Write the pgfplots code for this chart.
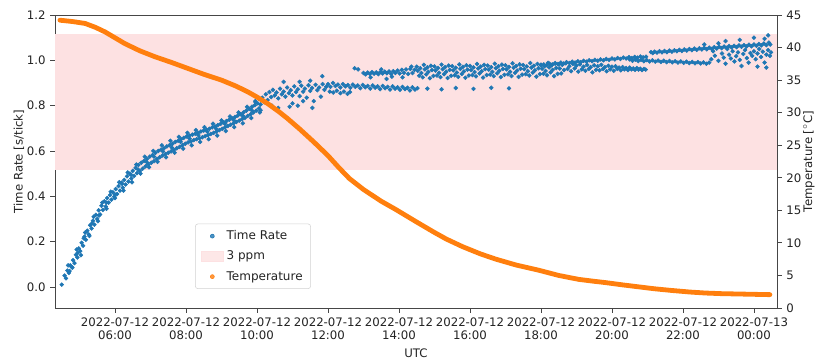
\documentclass[border=0pt]{standalone}
\usepackage{fontspec}
\setmainfont{DejaVu Sans}
\usepackage{pgfplots}
\pgfplotsset{compat=1.18}
\definecolor{c0}{HTML}{1F77B4}
\definecolor{c1}{HTML}{FF7F0E}
\definecolor{band}{RGB}{253,225,226}
\definecolor{spine}{RGB}{70,70,70}
\definecolor{txt}{RGB}{35,35,35}
\definecolor{legedge}{RGB}{210,210,210}
\begin{document}
\begin{tikzpicture}
\path[use as bounding box] (-41.25pt,-39pt) rectangle (571.5pt,231pt);
\pgfplotsset{
  every axis/.append style={
    scale only axis, width=541.5pt, height=219.75pt,
    at={(0,0)}, anchor=south west,
    xmin=4.31, xmax=24.65,
    axis line style={spine, line width=0.6pt},
    tick style={spine, line width=0.6pt},
    major tick length=3.5pt,
    tick align=outside,
    tick label style={font=\fontsize{8.8}{10.2}\selectfont, text=txt},
    label style={font=\fontsize{8.8}{10.2}\selectfont, text=txt},
    /pgf/number format/assume math mode=true,
  }
}
\begin{axis}[
  ymin=-0.093, ymax=1.2,
  xtick={6,8,10,12,14,16,18,20,22,24},
  xticklabels={2022-07-12\\06:00,2022-07-12\\08:00,2022-07-12\\10:00,2022-07-12\\12:00,2022-07-12\\14:00,2022-07-12\\16:00,2022-07-12\\18:00,2022-07-12\\20:00,2022-07-12\\22:00,2022-07-13\\00:00},
  xticklabel style={align=center},
  ytick={0,0.2,0.4,0.6,0.8,1.0,1.2},
  yticklabel style={/pgf/number format/.cd, fixed, fixed zerofill, precision=1},
  xtick pos=bottom, ytick pos=left,
  xlabel={UTC}, ylabel={Time Rate [s/tick]},
  ylabel style={at={(axis description cs:-0.05,0.5)}, anchor=center},
]
\addplot[fill=band, draw=none] coordinates {(4.31,0.515) (24.65,0.515) (24.65,1.115) (4.31,1.115)};
\addplot[only marks, mark=*, mark size=1.45pt, color=c0] coordinates {
(4.50,0.010) (4.58,0.050) (4.62,0.038) (4.66,0.072) (4.70,0.062) (4.74,0.095) (4.78,0.088) (4.82,0.118) (4.86,0.105) (4.90,0.142)
(4.94,0.130) (4.98,0.170) (5.02,0.158) (5.06,0.195) (5.10,0.182) (5.14,0.222) (5.18,0.208) (5.22,0.248) (5.26,0.232) (5.30,0.272)
(5.34,0.258) (5.38,0.292) (5.42,0.275) (5.46,0.318) (5.50,0.300) (5.54,0.338) (5.58,0.320) (5.62,0.358) (5.66,0.340) (5.70,0.378)
(5.74,0.355) (5.78,0.392) (5.82,0.372) (5.86,0.405) (5.90,0.385) (5.94,0.418) (5.98,0.398) (6.02,0.432) (6.06,0.410) (6.10,0.445)
(6.14,0.425) (6.18,0.460) (6.22,0.438) (6.26,0.472) (6.30,0.452) (6.34,0.488) (6.38,0.465) (6.42,0.500) (6.46,0.478) (6.50,0.512)
(6.54,0.490) (6.58,0.525) (6.62,0.502) (6.66,0.538) (6.70,0.512) (6.74,0.548) (6.78,0.522) (6.82,0.556) (6.86,0.532) (6.90,0.565)
(6.94,0.540) (6.98,0.575) (7.02,0.548) (7.06,0.582) (7.10,0.555) (7.14,0.592) (7.18,0.565) (7.22,0.600) (7.26,0.572) (7.30,0.606)
(7.34,0.580) (7.38,0.612) (7.42,0.586) (7.46,0.620) (7.50,0.592) (7.54,0.626) (7.58,0.598) (7.62,0.632) (7.66,0.605) (7.70,0.640)
(7.74,0.612) (7.78,0.645) (7.82,0.618) (7.86,0.652) (7.90,0.625) (7.94,0.658) (7.98,0.632) (8.02,0.664) (8.06,0.638) (8.10,0.668)
(8.14,0.642) (8.18,0.672) (8.22,0.648) (8.26,0.676) (8.30,0.652) (8.34,0.680) (8.38,0.656) (8.42,0.686) (8.46,0.660) (8.50,0.690)
(8.54,0.665) (8.58,0.694) (8.62,0.670) (8.66,0.698) (8.70,0.675) (8.74,0.704) (8.78,0.680) (8.82,0.708) (8.86,0.686) (8.90,0.714)
(8.94,0.692) (8.98,0.720) (9.02,0.698) (9.06,0.726) (9.10,0.704) (9.14,0.732) (9.18,0.710) (9.22,0.738) (9.26,0.716) (9.30,0.744)
(9.34,0.722) (9.38,0.750) (9.42,0.728) (9.46,0.756) (9.50,0.734) (9.54,0.762) (9.58,0.740) (9.62,0.770) (9.66,0.746) (9.70,0.778)
(9.74,0.755) (9.78,0.786) (9.82,0.762) (9.86,0.795) (9.90,0.770) (9.94,0.802) (9.98,0.778) (10.02,0.810) (10.06,0.788) (10.10,0.805)
(4.72,0.070) (4.95,0.150) (5.12,0.215) (5.35,0.280) (5.55,0.315) (5.76,0.372) (6.00,0.408) (6.20,0.455) (6.45,0.495) (6.65,0.518)
(6.90,0.550) (7.10,0.575) (7.35,0.598) (7.60,0.615) (7.85,0.640) (8.10,0.655) (8.35,0.670) (8.60,0.685) (8.85,0.698) (9.10,0.720)
(9.35,0.735) (9.60,0.755) (9.85,0.780) (10.05,0.830) (9.95,0.820) (10.10,0.780)
(4.68,0.095) (4.80,0.085) (4.92,0.165) (5.04,0.140) (5.16,0.240) (5.28,0.225) (5.40,0.310) (5.52,0.290) (5.64,0.372) (5.76,0.345)
(5.88,0.420) (6.00,0.392) (6.12,0.462) (6.24,0.425) (6.36,0.505) (6.48,0.462) (6.60,0.540) (6.72,0.500) (6.84,0.575) (6.96,0.528)
(7.08,0.600) (7.20,0.552) (7.32,0.625) (7.44,0.572) (7.56,0.645) (7.68,0.592) (7.80,0.662) (7.92,0.610) (8.04,0.680) (8.16,0.625)
(8.28,0.692) (8.40,0.640) (8.52,0.705) (8.64,0.652) (8.76,0.720) (8.88,0.668) (9.00,0.735) (9.12,0.688) (9.24,0.752) (9.36,0.705)
(9.48,0.770) (9.60,0.722) (9.72,0.795) (9.84,0.745) (9.96,0.815) (10.08,0.770)
(10.15,0.835) (10.20,0.815) (10.25,0.850) (10.30,0.825) (10.35,0.860) (10.40,0.838) (10.45,0.870) (10.50,0.845) (10.55,0.858) (10.60,0.832)
(10.65,0.875) (10.70,0.850) (10.75,0.862) (10.80,0.840) (10.85,0.880) (10.90,0.855) (10.95,0.868) (11.00,0.845) (11.05,0.885) (11.10,0.860)
(11.15,0.872) (11.20,0.842) (11.25,0.888) (11.30,0.862) (11.35,0.875) (11.40,0.835) (11.45,0.890) (11.50,0.865) (11.55,0.878) (11.60,0.820)
(11.65,0.892) (11.70,0.868) (11.75,0.880) (11.80,0.840) (11.85,0.895) (11.90,0.870) (11.95,0.883)
(10.42,0.800) (10.75,0.905) (11.00,0.810) (11.30,0.820) (11.50,0.910) (10.60,0.790) (11.15,0.800) (10.92,0.795) (11.56,0.790) (11.84,0.930) (11.20,0.905)
(12.00,0.895) (12.07,0.883) (12.14,0.900) (12.21,0.887) (12.28,0.893) (12.35,0.880) (12.42,0.895) (12.49,0.885) (12.56,0.891) (12.63,0.879)
(12.70,0.893) (12.77,0.883) (12.84,0.889) (12.91,0.877) (12.98,0.891) (13.05,0.881) (13.12,0.887) (13.19,0.875) (13.26,0.889) (13.33,0.879)
(13.40,0.885) (13.47,0.873) (13.54,0.887) (13.61,0.877) (13.68,0.883) (13.75,0.871) (13.82,0.885) (13.89,0.875) (13.96,0.881) (14.03,0.870)
(14.10,0.883) (14.17,0.873) (14.24,0.879) (14.31,0.867) (14.38,0.881) (14.45,0.871) (14.52,0.877)
(12.05,0.862) (12.15,0.858) (12.25,0.866) (12.35,0.855) (12.45,0.862) (12.55,0.852) (12.62,0.860)
(14.80,0.875) (15.20,0.872) (15.60,0.878) (16.10,0.874) (16.60,0.879) (17.10,0.876)
(12.75,0.965) (12.85,0.960)
(13.00,0.944) (13.06,0.938) (13.12,0.946) (13.18,0.940) (13.24,0.948) (13.30,0.941) (13.36,0.947) (13.42,0.939) (13.48,0.949) (13.54,0.942)
(13.60,0.950) (13.66,0.943) (13.72,0.951) (13.78,0.940) (13.84,0.952) (13.90,0.944) (13.96,0.955) (14.02,0.942) (14.08,0.958) (14.14,0.945)
(14.20,0.960) (14.26,0.940) (14.32,0.962) (14.38,0.944) (14.44,0.958)
(13.2,0.925) (13.5,0.960) (13.8,0.928) (14.1,0.925) (14.35,0.972) (13.65,0.918)
(14.50,0.972) (14.53,0.954) (14.57,0.932) (14.60,0.965) (14.63,0.944) (14.67,0.925) (14.70,0.980) (14.73,0.960) (14.77,0.938)
(14.80,0.969) (14.83,0.949) (14.87,0.921) (14.90,0.976) (14.93,0.957) (14.97,0.931) (15.00,0.973) (15.03,0.955) (15.07,0.933)
(15.10,0.966) (15.13,0.945) (15.17,0.926) (15.20,0.981) (15.23,0.961) (15.27,0.939) (15.30,0.970) (15.33,0.950) (15.37,0.922)
(15.40,0.977) (15.43,0.958) (15.47,0.932) (15.50,0.974) (15.53,0.956) (15.57,0.934) (15.60,0.967) (15.63,0.946) (15.67,0.927)
(15.70,0.982) (15.73,0.962) (15.77,0.940) (15.80,0.971) (15.83,0.951) (15.87,0.923) (15.90,0.978) (15.93,0.959) (15.97,0.933)
(16.00,0.975) (16.03,0.957) (16.07,0.935) (16.10,0.969) (16.13,0.948) (16.17,0.929) (16.20,0.984) (16.23,0.964) (16.27,0.942)
(16.30,0.972) (16.33,0.952) (16.37,0.924) (16.40,0.980) (16.43,0.961) (16.47,0.935) (16.50,0.977) (16.53,0.959) (16.57,0.937)
(16.60,0.970) (16.63,0.949) (16.67,0.930) (16.70,0.985) (16.73,0.965) (16.77,0.943) (16.80,0.974) (16.83,0.954) (16.87,0.926)
(16.90,0.981) (16.93,0.962) (16.97,0.936) (17.00,0.978) (17.03,0.960) (17.07,0.938) (17.10,0.971) (17.13,0.950) (17.17,0.931)
(17.20,0.987) (17.23,0.967) (17.27,0.945) (17.30,0.975) (17.33,0.955) (17.37,0.927) (17.40,0.982) (17.43,0.963) (17.47,0.937)
(17.50,0.979) (17.53,0.961) (17.57,0.939) (17.60,0.973) (17.63,0.952) (17.67,0.933) (17.70,0.988) (17.73,0.968) (17.77,0.946)
(17.80,0.976) (17.83,0.956) (17.87,0.928) (17.90,0.984) (17.93,0.965) (17.97,0.939) (18.00,0.981) (18.03,0.963) (18.07,0.941)
(18.10,0.974) (18.13,0.953) (18.17,0.934) (18.20,0.989) (18.23,0.969) (18.27,0.947) (18.30,0.978) (18.33,0.958) (18.37,0.930)
(18.40,0.985) (18.43,0.966) (18.47,0.940) (18.50,0.982) (18.53,0.964) (18.57,0.942)
(18.60,0.980) (18.65,0.957) (18.70,0.987) (18.75,0.962) (18.80,0.974) (18.85,0.952) (18.90,0.984) (18.95,0.964) (19.00,0.977) (19.05,0.950)
(19.10,0.982) (19.15,0.960) (19.20,0.972) (19.25,0.954) (19.30,0.980) (19.35,0.962) (19.40,0.970) (19.45,0.947) (19.50,0.978) (19.55,0.958)
(19.60,0.974) (19.65,0.956) (19.70,0.980) (19.75,0.962) (19.80,0.970) (19.85,0.952) (19.90,0.976) (19.95,0.960) (20.00,0.972) (20.05,0.954)
(20.10,0.974) (20.15,0.962) (20.20,0.968) (20.25,0.956) (20.30,0.970) (20.35,0.960) (20.40,0.966) (20.45,0.957) (20.50,0.968) (20.55,0.960)
(20.60,0.964) (20.65,0.958) (20.70,0.966) (20.75,0.959) (20.80,0.963) (20.85,0.957) (20.90,0.962) (20.95,0.959)
(18.00,0.978) (18.08,0.982) (18.16,0.979) (18.24,0.985) (18.32,0.982) (18.40,0.988) (18.48,0.984) (18.56,0.990) (18.64,0.986) (18.72,0.992)
(18.80,0.988) (18.88,0.994) (18.96,0.990) (19.04,0.996) (19.12,0.992) (19.20,0.998) (19.28,0.994) (19.36,1.000) (19.44,0.996) (19.52,1.002)
(19.60,0.998) (19.68,1.004) (19.76,1.000) (19.84,1.006) (19.92,1.002) (20.00,1.008) (20.08,1.004) (20.16,1.010) (20.24,1.006) (20.32,1.012)
(20.40,1.008) (20.48,1.014) (20.56,1.010) (20.64,1.015) (20.72,1.012) (20.80,1.017) (20.88,1.013) (20.96,1.016)
(20.50,1.004) (20.58,0.998) (20.66,1.003) (20.74,0.997) (20.82,1.002) (20.90,0.996) (20.98,1.001) (21.06,0.995) (21.14,1.000) (21.22,0.994)
(21.30,0.999) (21.38,0.993) (21.46,0.998) (21.54,0.992) (21.62,0.997) (21.70,0.991) (21.78,0.996) (21.86,0.990) (21.94,0.995) (22.02,0.989)
(22.10,0.994) (22.18,0.988) (22.26,0.993) (22.34,0.987) (22.42,0.992) (22.50,0.986) (22.58,0.991) (22.66,0.985) (22.74,0.990)
(21.10,1.036) (21.15,1.032) (21.20,1.038) (21.27,1.034) (21.34,1.040) (21.41,1.035) (21.48,1.041) (21.55,1.036) (21.62,1.043) (21.69,1.038)
(21.76,1.044) (21.83,1.040) (21.90,1.046) (21.97,1.041) (22.04,1.048) (22.11,1.043) (22.18,1.050) (22.25,1.045) (22.32,1.052) (22.39,1.046)
(22.46,1.053) (22.53,1.048) (22.60,1.055) (22.67,1.049) (22.74,1.056) (22.81,1.050) (22.88,1.058) (22.95,1.052) (23.02,1.060) (23.09,1.054)
(23.16,1.061) (23.23,1.055) (23.30,1.063) (23.37,1.057) (23.44,1.064) (23.51,1.058) (23.58,1.066) (23.65,1.060) (23.72,1.067) (23.79,1.061)
(23.86,1.069) (23.93,1.062) (24.00,1.070) (24.07,1.064) (24.14,1.072) (24.21,1.066) (24.28,1.074) (24.35,1.067) (24.42,1.078) (24.46,1.070)
(23.20,1.085) (23.60,1.090) (24.00,1.100) (24.30,1.095) (24.40,1.110) (22.60,1.070) (23.00,1.075)
(22.80,1.005) (22.90,1.020) (23.00,0.998) (23.10,1.030) (23.15,1.012) (23.20,0.985) (23.30,1.025) (23.35,1.008) (23.40,1.040) (23.45,0.995)
(23.50,1.018) (23.55,1.035) (23.60,1.002) (23.70,1.028) (23.75,1.045) (23.80,1.010) (23.85,0.990) (23.90,1.032) (23.95,1.020) (24.00,1.040)
(24.05,1.005) (24.10,1.030) (24.15,1.050) (24.20,1.015) (24.25,1.038) (24.30,0.990) (24.35,1.025) (24.40,1.045) (24.45,1.020) (24.48,1.035)
(22.85,1.040) (23.25,1.050) (23.65,0.975) (24.10,0.972) (24.35,0.968)
};
\node[anchor=south west, inner sep=0pt, font=\fontsize{8.8}{10.2}\selectfont, text=txt] at (rel axis cs:0,1) [yshift=2pt] {1e−5+1};
\end{axis}
\begin{axis}[
  ymin=0, ymax=45,
  hide x axis,
  axis y line*=right,
  ytick={0,5,10,15,20,25,30,35,40,45},
  yticklabel pos=right,
  ylabel={Temperature [$^\circ$C]},
  ylabel style={at={(axis description cs:1.0443,0.5)}, anchor=center},
  legend style={at={(0.194,0.065)}, anchor=south west, draw=legedge, fill=white, fill opacity=0.8, text opacity=1,
    rounded corners=2pt, font=\fontsize{9}{11}\selectfont, text=txt, row sep=3pt, inner xsep=4pt, inner ysep=3pt},
  legend cell align=left,
]
\addplot[c1, line width=3.6pt, line cap=round, line join=round, forget plot] coordinates {
(4.45,44.2) (4.8,44.0) (5.16,43.7) (5.45,43.1) (5.72,42.4) (6.0,41.5) (6.28,40.6) (6.7,39.5) (7.12,38.6) (7.6,37.7)
(8.05,36.8) (8.5,35.9) (9.0,35.0) (9.4,34.1) (9.74,33.2) (10.0,32.4) (10.3,31.4) (10.63,30.1) (10.86,29.1) (11.2,27.5)
(11.6,25.5) (12.0,23.4) (12.3,21.6) (12.6,19.9) (13.0,18.2) (13.5,16.4) (13.92,15.1) (14.5,13.2) (15.0,11.6) (15.33,10.6)
(15.8,9.4) (16.3,8.3) (16.73,7.5) (17.3,6.6) (17.94,5.8) (18.5,5.0) (19.06,4.4) (19.5,4.1) (19.82,3.9) (20.3,3.55)
(20.75,3.25) (21.2,2.95) (21.67,2.7) (22.2,2.45) (22.63,2.3) (23.1,2.2) (23.56,2.15) (24.0,2.1) (24.45,2.05)
};
\addlegendimage{only marks, mark=*, mark size=1.5pt, c0}
\addlegendentry{Time Rate}
\addlegendimage{legend image code/.code={\fill[band, sharp corners] (0cm,-0.12cm) rectangle (0.6cm,0.14cm);}}
\addlegendentry{3 ppm}
\addlegendimage{only marks, mark=*, mark size=1.5pt, c1}
\addlegendentry{Temperature}
\end{axis}
\end{tikzpicture}
\end{document}
